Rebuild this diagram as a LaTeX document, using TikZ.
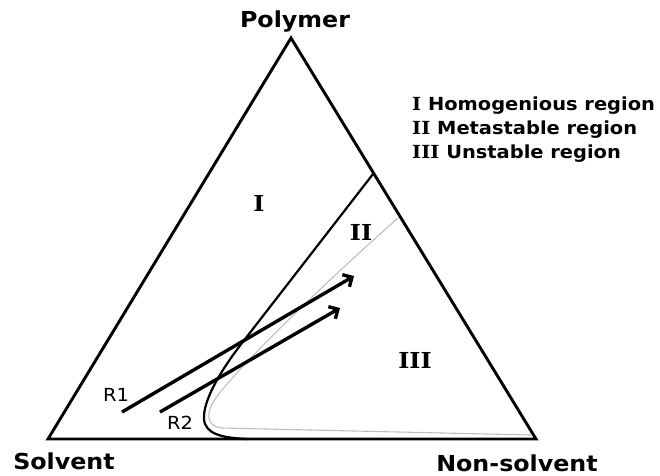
\documentclass[tikz,border=0pt]{standalone}
\usepackage{fontspec}
\usetikzlibrary{arrows.meta}
\newfontfamily\dvsans{DejaVu Sans}[FakeStretch=1.08]
\newfontfamily\dvserif{DejaVu Serif}[FakeStretch=1.08]
\tikzset{
  tri/.style={line width=2.9pt, line join=miter},
  binodal/.style={line width=2.2pt},
  spinodal/.style={line width=1.1pt, draw={rgb,255:red,190;green,190;blue,190}},
  path arrow/.style={line width=3.4pt, -{Straight Barb[length=7pt,width=14pt]}},
  corner/.style={font=\dvsans\bfseries\fontsize{22}{26}\selectfont, anchor=base, inner sep=0pt},
  region/.style={font=\dvserif\bfseries\fontsize{22}{26}\selectfont, inner sep=0pt},
  legend/.style={font=\dvsans\bfseries\fontsize{18}{22}\selectfont, anchor=base west, inner sep=0pt},
  rlabel/.style={font=\dvsans\fontsize{18}{21}\selectfont, inner sep=0pt},
}
\begin{document}
\begin{tikzpicture}[x=1pt,y=-1pt]
\useasboundingbox (0,0) rectangle (660,475);
\coordinate (S) at (48,439);
\coordinate (N) at (536,439);
\coordinate (P) at (291,38);
\draw[tri] (S) -- (N) -- (P) -- cycle;
% spinodal (grey)
\draw[spinodal] (398,218) .. controls (330,278) and (245,360) .. (218,395)
  .. controls (205,412) and (205,426) .. (222,428) -- (531,435);
% binodal (black)
\draw[binodal] (373,174) -- (242,343) .. controls (218,374) and (203,402) .. (204,419)
  .. controls (205,434) and (222,438) .. (248,439);
% paths
\coordinate (r1s) at (122,412);
\coordinate (r1e) at (354,276);
\coordinate (r2s) at (160,412);
\coordinate (r2e) at (340,308);
\draw[path arrow] (r1s) -- (r1e);
\draw[path arrow] (r2s) -- (r2e);
\node[rlabel] (R1) at (116,395) {R1};
\node[rlabel] (R2) at (180,423) {R2};
% corner labels
\node[corner] (pol) at (295,27) {Polymer};
\node[corner] (sol) at (64,469) {Solvent};
\node[corner] (non) at (517,471) {Non-solvent};
% regions
\node[region] (rI) at (259,203) {I};
\node[region] (rII) at (361,232) {II};
\node[region] (rIII) at (415,360) {III};
% legend
\node[legend] (l1) at (412,110) {{\dvserif I} Homogenious region};
\node[legend] (l2) at (412,134) {{\dvserif II} Metastable region};
\node[legend] (l3) at (412,158) {{\dvserif III} Unstable region};
\end{tikzpicture}
\end{document}
